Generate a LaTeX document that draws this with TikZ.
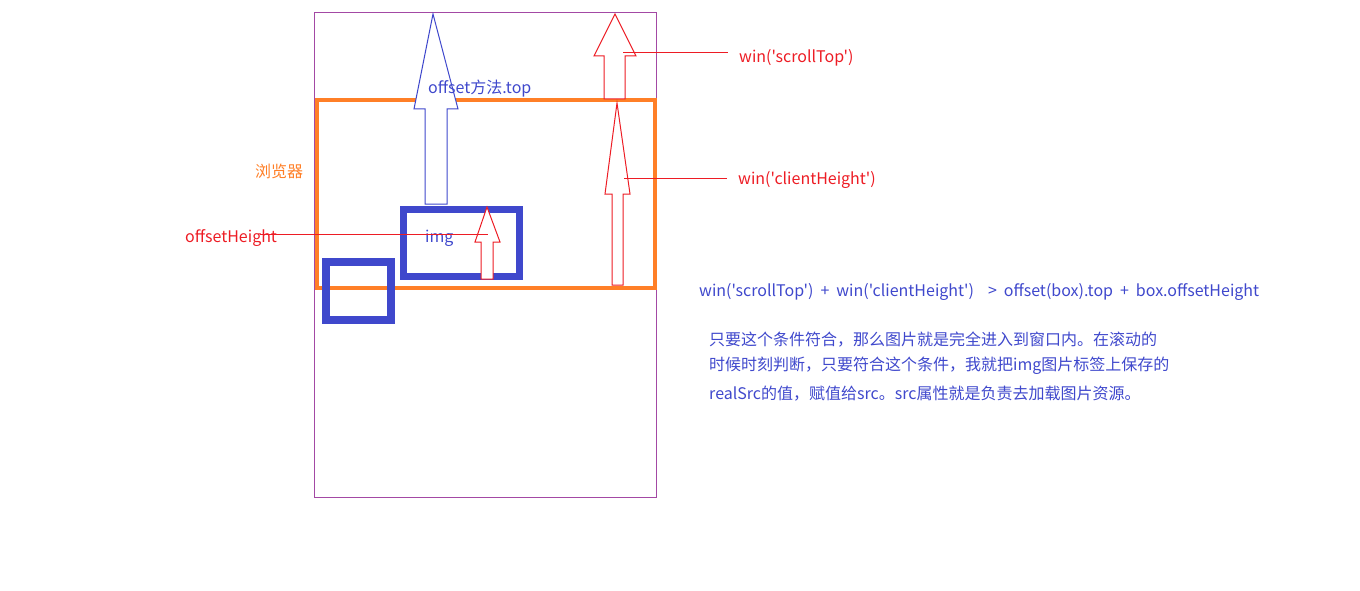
\documentclass[tikz,border=0pt]{standalone}
\usepackage{fontspec}
\newfontfamily\yh{Noto Sans CJK SC}
\definecolor{cred}{HTML}{ED1C24}
\definecolor{cblue}{HTML}{3F48CC}
\definecolor{corange}{HTML}{FF7F27}
\definecolor{cpurple}{HTML}{A349A4}
\tikzset{
  lbl/.style={anchor=west,inner sep=0pt,font=\yh\fontsize{16}{20}\selectfont},
  thinred/.style={draw=cred,line width=1pt},
  thinblue/.style={draw=cblue,line width=1pt}
}
\begin{document}
\begin{tikzpicture}[x=1pt,y=-1pt]
\useasboundingbox (0,0) rectangle (1360,591);
% page frame
\draw[cpurple,line width=1pt] (314.5,12.5) rectangle (656.5,497.5);
% browser window
\draw[corange,line width=4pt] (317,100) rectangle (655,288);
% img box
\draw[cblue,line width=7pt] (403.5,209.5) rectangle (519,276);
% other box
\draw[cblue,line width=8pt] (326,262) rectangle (391,320);
% blue arrow offset top
\draw[thinblue,fill=white] (433,14) -- (458,109) -- (447,109) -- (447,204) -- (425,204) -- (425,109) -- (414,109) -- cycle;
% red arrow scrollTop
\draw[thinred,fill=white] (615,14) -- (636,56) -- (625,56) -- (625,99) -- (604,99) -- (604,56) -- (594,56) -- cycle;
% red arrow clientHeight
\draw[thinred,fill=white] (617,103) -- (630,194) -- (623,194) -- (623,285) -- (612,285) -- (612,194) -- (605,194) -- cycle;
% small red arrow in img
\draw[thinred,fill=white] (487,207) -- (500,242) -- (493,242) -- (493,279) -- (481,279) -- (481,242) -- (475,242) -- cycle;
% texts
\node[lbl,text=cblue] (otop) at (428,89) {offset方法.top};
\node[lbl,text=corange] (browser) at (255,171) {浏览器};
\node[lbl,text=cblue] (img) at (425,238) {img};
\node[lbl,text=cred] (oh) at (185,238) {offsetHeight};
\node[lbl,text=cred] (st) at (739,58) {win('scrollTop')};
\node[lbl,text=cred] (ch) at (738,180) {win('clientHeight')};
\node[lbl,text=cblue] (formula) at (699,292) {\spaceskip=7pt win('scrollTop') + win('clientHeight') \ > offset(box).top + box.offsetHeight};
\node[lbl,text=cblue] (p1) at (709,340) {只要这个条件符合，那么图片就是完全进入到窗口内。在滚动的};
\node[lbl,text=cblue] (p2) at (709,366) {时候时刻判断，只要符合这个条件，我就把img图片标签上保存的};
\node[lbl,text=cblue] (p3) at (709,394) {realSrc的值，赋值给src。src属性就是负责去加载图片资源。};
% connector lines
\coordinate (stA) at (623,53);
\coordinate (stB) at (728,53);
\draw[thinred] (stA) -- (stB);
\coordinate (chA) at (624,178);
\coordinate (chB) at (727,178);
\draw[thinred] (chA) -- (chB);
\coordinate (ohA) at (260,234);
\coordinate (ohB) at (488,234);
\draw[thinred] (ohA) -- (ohB);
\end{tikzpicture}
\end{document}
